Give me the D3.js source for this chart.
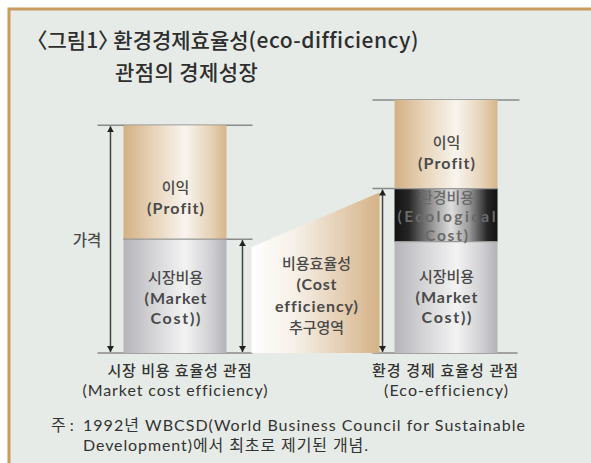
<!DOCTYPE html>
<html><head><meta charset="utf-8">
<script src="https://cdn.jsdelivr.net/npm/d3@7"></script>
<style>
html,body{margin:0;padding:0;background:#fff;}
svg{display:block;}
text{font-family:Lato,"Noto Sans CJK KR",sans-serif;font-variant-ligatures:none;}
.title{font-family:"Noto Sans CJK KR",sans-serif;font-feature-settings:"halt";}
</style></head>
<body>
<script>
// ---- data ----
const categories = ["시장 비용 효율성 관점", "환경 경제 효율성 관점"];
const categoriesEn = ["(Market cost efficiency)", "(Eco-efficiency)"];
const marketCost = [45, 44];
const ecoCost = [0, 21];
const profit = [45, 35];
const segmentNames = ["marketCost", "ecoCost", "profit"];
const segmentLabels = {
  marketCost: ["시장비용", "(Market", "Cost))"],
  ecoCost: ["환경비용", "(Ecological", "Cost)"],
  profit: ["이익", "(Profit)"]
};
const areaLabel = ["비용효율성", "(Cost", "efficiency)", "추구영역"];
const axisLabel = "가격";
const titleLine1 = ["〈그림1〉 환경경제효율성", "(eco-difficiency)"];
const titleLine2 = "관점의 경제성장";
const notePrefix = "주 :";
const noteLines = ["1992년 WBCSD(World Business Council for Sustainable", "Development)에서 최초로 제기된 개념."];

// rendered widths of the latin label lines (to mimic the original typeface)
const latinWidth = { "(Profit)": 57, "(Market": 62, "Cost))": 50, "(Ecological": 98, "Cost)": 43, "(Cost": 40, "efficiency)": 83 };

const W = 591, H = 463;
const svg = d3.select("body").append("svg").attr("width", W).attr("height", H);
const defs = svg.append("defs");

function hGrad(id, stops) {
  const g = defs.append("linearGradient").attr("id", id).attr("x1", "0%").attr("x2", "100%").attr("y1", "0%").attr("y2", "0%");
  stops.forEach(s => g.append("stop").attr("offset", s[0]).attr("stop-color", s[1]));
}
hGrad("gProfit", [["0%", "#d3b083"], ["30%", "#e8d5bb"], ["60%", "#f8f4ee"], ["85%", "#e6d2b6"], ["100%", "#d6b58a"]]);
hGrad("gMarket", [["0%", "#b4b4b9"], ["30%", "#d6d6d9"], ["60%", "#f3f3f3"], ["85%", "#d0d0d3"], ["100%", "#b2b2b7"]]);
hGrad("gEco", [["0%", "#121212"], ["14%", "#262626"], ["38%", "#9c9c9c"], ["55%", "#dedede"], ["72%", "#9c9c9c"], ["90%", "#262626"], ["100%", "#121212"]]);
hGrad("gArea", [["0%", "#ffffff"], ["35%", "#f6efe6"], ["100%", "#d6b287"]]);
const fills = { marketCost: "url(#gMarket)", ecoCost: "url(#gEco)", profit: "url(#gProfit)" };

function marker(id, orient) {
  defs.append("marker").attr("id", id).attr("viewBox", "0 0 10 10").attr("refX", 10).attr("refY", 5)
    .attr("markerWidth", 6).attr("markerHeight", 7).attr("markerUnits", "userSpaceOnUse").attr("orient", orient)
    .attr("preserveAspectRatio", "none")
    .append("path").attr("d", "M0,0 L10,5 L0,10 Z").attr("fill", "#222");
}
marker("arrowEnd", "auto");
marker("arrowStart", "auto-start-reverse");

// background frame
svg.append("rect").attr("x", 0).attr("y", 0).attr("width", W).attr("height", H).attr("fill", "#ffffff");
svg.append("rect").attr("x", 9).attr("y", 9).attr("width", W + 20).attr("height", H + 20)
  .attr("fill", "#e6ebe7").attr("stroke", "#c99b5e").attr("stroke-width", 3);

// title
const title = svg.append("g").attr("class", "title").attr("fill", "#2e2e2e").attr("font-weight", 500).attr("font-size", 21);
const t1 = title.append("text").attr("class", "title").attr("x", 37).attr("y", 48);
t1.append("tspan").style("letter-spacing", "0px").text(titleLine1[0]);
t1.append("tspan").style("letter-spacing", "0.5px").text(titleLine1[1]);
title.append("text").attr("class", "title").attr("x", 115).attr("y", 80).style("letter-spacing", "0.4px").text(titleLine2);

// scales
const x = d3.scaleBand().domain(categories).range([40, 581]).paddingInner(0.62).paddingOuter(0.308);
const y = d3.scaleLinear().domain([0, 100]).range([353, 100]);

const rows = categories.map((c, i) => ({ cat: c, marketCost: marketCost[i], ecoCost: ecoCost[i], profit: profit[i] }));
const stack = d3.stack().keys(segmentNames)(rows);
const bw = x.bandwidth();

// reference lines
const lines = svg.append("g").attr("stroke", "#8a8a8a").attr("stroke-width", 1.5);
const L = x(categories[0]), R = x(categories[1]);
const leftTop = y(marketCost[0] + ecoCost[0] + profit[0]);
const leftMid = y(marketCost[0] + ecoCost[0]);
const rightTop = y(marketCost[1] + ecoCost[1] + profit[1]);
const rightMid = y(marketCost[1] + ecoCost[1]);
lines.append("line").attr("x1", L - 26).attr("x2", L + bw + 26).attr("y1", leftTop).attr("y2", leftTop);
lines.append("line").attr("x1", L - 26).attr("x2", L + bw + 26).attr("y1", y(0)).attr("y2", y(0));
lines.append("line").attr("x1", L).attr("x2", L + bw + 26).attr("y1", leftMid).attr("y2", leftMid);
lines.append("line").attr("x1", R - 22).attr("x2", R + bw + 22).attr("y1", rightTop).attr("y2", rightTop);
lines.append("line").attr("x1", R - 22).attr("x2", R + bw + 20).attr("y1", y(0)).attr("y2", y(0));
lines.append("line").attr("x1", R - 22).attr("x2", R + bw).attr("y1", rightMid).attr("y2", rightMid);

// trapezoid area
const ax0 = L + bw + 25, ax1 = R - 15;
svg.append("path")
  .attr("d", `M${ax0},${leftMid + 8} L${ax1},${rightMid + 4} L${ax1},${y(0)} L${ax0},${y(0)} Z`)
  .attr("fill", "url(#gArea)");

// bars
const segG = svg.append("g");
stack.forEach(layer => {
  layer.forEach((d, i) => {
    if (d[1] - d[0] <= 0) return;
    segG.append("rect").attr("x", x(categories[i])).attr("width", bw)
      .attr("y", y(d[1])).attr("height", y(d[0]) - y(d[1]))
      .attr("fill", fills[layer.key]);
  });
});
stack.forEach(layer => {
  layer.forEach((d, i) => {
    if (d[1] - d[0] <= 0 || d[0] === 0) return;
    segG.append("line").attr("x1", x(categories[i])).attr("x2", x(categories[i]) + bw)
      .attr("y1", y(d[0])).attr("y2", y(d[0])).attr("stroke", "#9a9a9a").attr("stroke-width", 1.2);
  });
});

// arrows
const arrows = svg.append("g").attr("stroke", "#444").attr("stroke-width", 1.5);
function arrow(xx, y1, y2) {
  arrows.append("line").attr("x1", xx).attr("x2", xx).attr("y1", y1 + 1).attr("y2", y2 - 1)
    .attr("marker-start", "url(#arrowStart)").attr("marker-end", "url(#arrowEnd)");
}
arrow(L - 13, leftTop, y(0));
arrow(L + bw + 16, leftMid, y(0));
arrow(R - 12, rightMid, y(0));

// segment labels
const labelGap = { marketCost: [29, 30], ecoCost: [0, 1], profit: [25, 20] };
const labelLH = { marketCost: 20.5, ecoCost: 19, profit: 21 };
const lab = svg.append("g").attr("text-anchor", "middle").attr("font-weight", 700);
function addLabel(cx, yy, t, col, small) {
  const el = lab.append("text").attr("x", cx).attr("y", yy).attr("fill", col);
  if (latinWidth[t]) {
    el.attr("font-size", small ? 15.5 : 16).attr("textLength", latinWidth[t]).attr("lengthAdjust", "spacing");
  } else {
    el.attr("font-size", 15).attr("font-weight", 500);
  }
  el.text(t);
}
stack.forEach(layer => {
  layer.forEach((d, i) => {
    if (d[1] - d[0] <= 0) return;
    const ls = segmentLabels[layer.key];
    const cx = x(categories[i]) + bw / 2 + 0.5;
    const last = y(d[0]) - labelGap[layer.key][i];
    ls.forEach((t, k) => {
      addLabel(cx, last - (ls.length - 1 - k) * labelLH[layer.key], t,
        layer.key === "ecoCost" ? "#6a6a6a" : "#4a4a4a", layer.key === "ecoCost");
    });
  });
});

// area label
const acx = (ax0 + ax1) / 2 + 1;
areaLabel.forEach((t, k) => addLabel(acx, 269 + k * 21.3, t, "#4a4a4a", false));

// axis label
lab.append("text").attr("x", 87).attr("y", (leftTop + y(0)) / 2 + 7).attr("font-size", 15.5).attr("font-weight", 500).attr("fill", "#4a4a4a").text(axisLabel);

// category labels
const catLen = [144, 146], catEnLen = [185, 124];
const cl = svg.append("g").attr("font-size", 15).attr("text-anchor", "middle").attr("fill", "#333");
categories.forEach((c, i) => {
  const cx = x(c) + bw / 2;
  cl.append("text").attr("x", cx + (i === 0 ? 4.5 : -1)).attr("y", 376).attr("font-weight", 500)
    .attr("textLength", catLen[i]).attr("lengthAdjust", "spacing").text(c);
  cl.append("text").attr("x", cx).attr("y", 395.5).attr("font-size", 16)
    .attr("textLength", catEnLen[i]).attr("lengthAdjust", "spacing").text(categoriesEn[i]);
});

// note
const nt = svg.append("g").attr("font-size", 16).attr("fill", "#333");
nt.append("text").attr("x", 51).attr("y", 431).text(notePrefix);
nt.append("text").attr("x", 83).attr("y", 431).attr("textLength", 442).attr("lengthAdjust", "spacing").text(noteLines[0]);
nt.append("text").attr("x", 83).attr("y", 451).attr("textLength", 285).attr("lengthAdjust", "spacing").text(noteLines[1]);
</script>
</body></html>
